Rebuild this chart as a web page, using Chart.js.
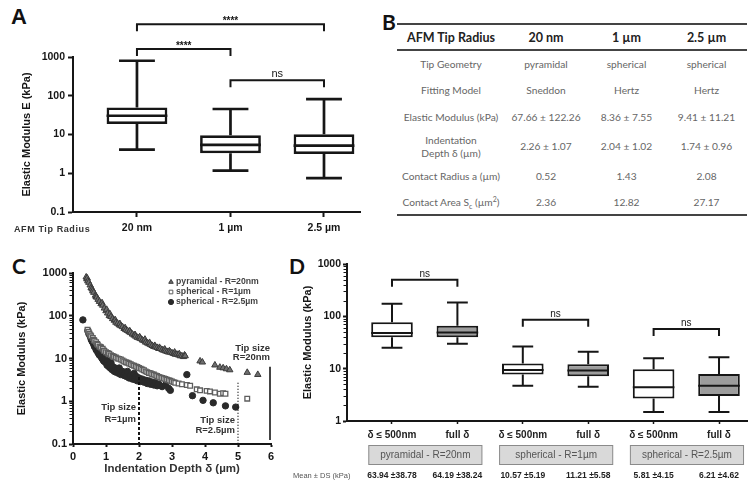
<!DOCTYPE html>
<html><head><meta charset="utf-8">
<script src="https://cdn.jsdelivr.net/npm/chart.js@4.4.1/dist/chart.umd.min.js"></script>
<style>
html,body{margin:0;padding:0;background:#fff;}
body{width:754px;height:487px;position:relative;overflow:hidden;}
canvas{position:absolute;}
.letter{position:absolute;font-weight:bold;color:#111;line-height:1;}
#tbl{position:absolute;left:397px;top:23px;width:350px;border-collapse:collapse;table-layout:fixed;font-family:Lato,'Open Sans',sans-serif;}
#tbl th{font-size:12.5px;font-weight:bold;color:#222;height:24px;padding:0;border-top:2px solid #444;border-bottom:2px solid #444;text-align:center;}
#tbl td{font-size:10.2px;color:#666;padding:0;text-align:center;line-height:13px;}
#tbl tbody tr:last-child td{border-bottom:2px solid #444;}
#tbl tbody tr:nth-child(1){height:27px;}
#tbl tbody tr:nth-child(2){height:27px;}
#tbl tbody tr:nth-child(3){height:27px;}
#tbl tbody tr:nth-child(4){height:31px;}
#tbl tbody tr:nth-child(5){height:29px;}
#tbl tbody tr:nth-child(6){height:24px;}
#tbl sub,#tbl sup{font-size:7px;line-height:0;}
</style></head>
<body>
<div class="letter" style="left:11px;top:6px;font-size:22px;font-family:'Liberation Sans',Arial,sans-serif">A</div>
<div class="letter" style="left:382px;top:11px;font-size:21px;font-family:Lato,sans-serif">B</div>
<div class="letter" style="left:12px;top:255px;font-size:21px;font-family:Lato,sans-serif">C</div>
<div class="letter" style="left:289px;top:255px;font-size:21px;font-family:Lato,sans-serif">D</div>
<canvas id="cA" width="375" height="242" style="left:0;top:0"></canvas>
<table id="tbl"></table>
<canvas id="cC" width="290" height="242" style="left:0;top:245px"></canvas>
<canvas id="cD" width="484" height="242" style="left:270px;top:245px"></canvas>
<script>
// ---------------- DATA ----------------
// Panel A
const tipCategories = ['20 nm', '1 µm', '2.5 µm'];
const tipMin    = [4.05, 1.17, 0.75];
const tipQ1     = [18.7, 3.27, 3.16];
const tipMedian = [30.5, 5.4, 5.15];
const tipQ3     = [50, 9.5, 10.1];
const tipMax    = [800, 45.5, 82];
const aYTicks   = [0.1, 1, 10, 100, 1000];
const aBrackets = [
  {from: 0, to: 2, level: 7000, label: '****'},
  {from: 0, to: 1, level: 1600, label: '****'},
  {from: 1, to: 2, level: 250,  label: 'ns'}
];

// Panel B
const tableHeader = ['AFM Tip Radius', '20 nm', '1 µm', '2.5 µm'];
const tableRowLabels = ['Tip Geometry', 'Fitting Model', 'Elastic Modulus (kPa)',
  'Indentation<br>Depth δ (µm)', 'Contact Radius a (µm)', 'Contact Area S<sub>c</sub> (µm<sup>2</sup>)'];
const tableValues = [
  ['pyramidal', 'spherical', 'spherical'],
  ['Sneddon', 'Hertz', 'Hertz'],
  ['67.66 ± 122.26', '8.36 ± 7.55', '9.41 ± 11.21'],
  ['2.26 ± 1.07', '2.04 ± 1.02', '1.74 ± 0.96'],
  ['0.52', '1.43', '2.08'],
  ['2.36', '12.82', '27.17']
];

// Panel C
const seriesNames = ['pyramidal - R=20nm', 'spherical - R=1µm', 'spherical - R=2.5µm'];
const pyramidalPoints = [[0.40,800],[0.42,720],[0.43,760],[0.45,650],[0.48,600],[0.52,520],[0.55,450],[0.58,420],[0.60,380],[0.63,350],[0.68,300],[0.70,280],[0.72,270],[0.76,240],[0.80,215],[0.85,190],[0.88,200],[0.90,175],[0.95,150],[1.00,130],[1.02,140],[1.05,115],[1.10,100],[1.12,110],[1.15,95],[1.20,85],[1.25,78],[1.28,80],[1.30,70],[1.35,66],[1.40,61],[1.42,65],[1.45,58],[1.50,55],[1.55,50],[1.58,52],[1.60,47],[1.65,45],[1.70,42],[1.72,44],[1.75,40],[1.80,37],[1.85,35],[1.88,36],[1.90,33],[1.95,31],[2.00,30],[2.02,32],[2.05,29],[2.10,27],[2.15,26],[2.18,28],[2.20,24],[2.25,23],[2.30,22],[2.32,23.5],[2.35,21],[2.40,20],[2.45,19],[2.48,20],[2.50,18.5],[2.55,18],[2.60,17],[2.62,18],[2.65,17],[2.70,16],[2.75,15.5],[2.78,16.5],[2.80,15],[2.85,14.5],[2.90,14],[2.92,15],[2.95,14],[3.00,13.5],[3.05,13],[3.08,14],[3.10,12.5],[3.15,12.5],[3.20,12],[3.22,12.8],[3.25,11.5],[3.30,11.5],[3.35,11],[3.38,12],[3.40,11.5],[3.85,8.7],[3.92,8.2],[4.30,7.0],[4.45,6.2],[4.55,6.0],[4.65,5.7],[4.75,5.4],[5.28,4.7],[5.60,4.2]];
const sphere1Points = [[0.44,47],[0.47,42],[0.50,38],[0.53,35],[0.55,33],[0.60,30],[0.63,27],[0.65,26],[0.70,24],[0.73,22],[0.75,21],[0.80,19],[0.83,18.5],[0.85,18],[0.90,17],[0.93,15.5],[0.95,15],[1.00,14],[1.05,13.5],[1.08,12.5],[1.10,13],[1.15,12],[1.20,11.5],[1.23,10.8],[1.25,11],[1.30,10.5],[1.35,10],[1.40,9.8],[1.45,9.5],[1.50,9],[1.55,8.5],[1.60,8.2],[1.65,8],[1.70,7.6],[1.75,7.3],[1.80,7],[1.85,6.8],[1.90,6.5],[1.95,6.3],[2.00,6],[2.05,5.8],[2.10,5.5],[2.15,5.3],[2.20,5],[2.25,4.8],[2.30,4.6],[2.35,4.5],[2.40,4.3],[2.45,4.2],[2.50,4],[2.55,3.9],[2.60,3.7],[2.65,3.6],[2.70,3.5],[2.75,3.4],[2.80,3.3],[2.85,3.2],[2.90,3.1],[2.95,3.0],[3.00,2.9],[3.05,2.8],[3.10,2.7],[3.20,2.6],[3.30,2.5],[3.45,2.4],[3.55,2.3],[3.75,1.9],[3.85,1.8],[4.05,1.75],[4.15,1.7],[4.30,1.6],[4.45,1.5],[4.55,1.55],[4.62,1.5],[5.28,1.15]];
const sphere25Points = [[0.30,80],[0.45,45],[0.48,38],[0.52,33],[0.55,28],[0.58,25],[0.62,22],[0.65,19],[0.70,16],[0.72,18],[0.75,14],[0.78,13],[0.80,12],[0.83,15],[0.85,11],[0.88,10],[0.90,12],[0.92,9],[0.95,8.5],[0.98,10],[1.00,8],[1.03,7],[1.05,9],[1.08,6.5],[1.10,7.5],[1.13,6],[1.15,8],[1.18,5.5],[1.20,6.5],[1.25,5],[1.28,6],[1.30,4.8],[1.35,5.5],[1.38,4.5],[1.40,6],[1.45,4.2],[1.50,5],[1.55,4],[1.58,4.5],[1.62,3.8],[1.65,5],[1.70,3.5],[1.75,4],[1.80,3.3],[1.85,4.5],[1.88,3.2],[1.92,3.8],[1.95,3],[2.00,3.5],[2.05,2.9],[2.10,3.3],[2.15,2.8],[2.20,3.1],[2.25,2.6],[2.30,3.0],[2.35,2.5],[2.40,2.8],[2.45,2.4],[2.50,2.7],[2.55,2.3],[2.60,2.5],[2.70,2.2],[2.80,2.4],[2.90,2.0],[2.95,1.8],[3.45,4.2],[3.62,1.35],[3.94,1.05],[4.25,0.92],[4.62,0.78],[4.93,0.73]];
const cYTicks = [0.1, 1, 10, 100, 1000];
const cXTicks = [0, 1, 2, 3, 4, 5, 6];
const tipSizeLines = [
  {x: 2, top: 3.7, style: 'dashed', text: ['Tip size', 'R=1µm'], textY: [0.70, 0.37]},
  {x: 5, top: 2.7, style: 'dotted', text: ['Tip size', 'R=2.5µm'], textY: [0.35, 0.21]},
  {x: 6, top: 6.4, style: 'solid',  text: ['Tip size', 'R=20nm'], textY: [17, 10.4]}
];

// Panel D
const depthLabels = ['δ ≤ 500nm', 'full δ', 'δ ≤ 500nm', 'full δ', 'δ ≤ 500nm', 'full δ'];
const depthMin    = [25, 30, 4.7, 4.5, 1.48, 1.48];
const depthQ1     = [40, 40, 7.7, 7.2, 2.7, 3.0];
const depthMedian = [48, 49, 9.4, 9.2, 4.4, 4.7];
const depthQ3     = [77.5, 66, 12.6, 12.2, 9.8, 7.9];
const depthMax    = [174, 183, 26.4, 21, 15.8, 16.6];
const tipGroups   = ['pyramidal - R=20nm', 'spherical - R=1µm', 'spherical - R=2.5µm'];
const meanSD      = ['63.94 ±38.78', '64.19 ±38.24', '10.57 ±5.19', '11.21 ±5.58', '5.81 ±4.15', '6.21 ±4.62'];
const dYTicks = [1, 10, 100, 1000];
const dBrackets = [
  {from: 0, to: 1, level: 500, label: 'ns'},
  {from: 2, to: 3, level: 86,  label: 'ns'},
  {from: 4, to: 5, level: 57,  label: 'ns'}
];

// ---------------- HELPERS ----------------
const INK = '#161616';
const FONT = "'Liberation Sans', Arial, sans-serif";
Chart.defaults.font.family = FONT;
Chart.defaults.color = INK;

function fnt(size, weight) { return weight + ' ' + size + 'px ' + FONT; }

function boxWhiskers(id, mins, meds, maxs, lw, capFrac) {
  return { id, afterDatasetsDraw(chart) {
    const ctx = chart.ctx, y = chart.scales.y;
    chart.getDatasetMeta(0).data.forEach((bar, i) => {
      const p = bar.getProps(['x', 'y', 'base', 'width'], true);
      const top = Math.min(p.y, p.base), bottom = Math.max(p.y, p.base);
      const half = p.width / 2, cap = p.width * capFrac / 2;
      const pMax = y.getPixelForValue(maxs[i]), pMin = y.getPixelForValue(mins[i]), pMed = y.getPixelForValue(meds[i]);
      ctx.save();
      ctx.strokeStyle = INK; ctx.lineWidth = lw;
      ctx.beginPath();
      ctx.moveTo(p.x, top); ctx.lineTo(p.x, pMax);
      ctx.moveTo(p.x - cap, pMax); ctx.lineTo(p.x + cap, pMax);
      ctx.moveTo(p.x, bottom); ctx.lineTo(p.x, pMin);
      ctx.moveTo(p.x - cap, pMin); ctx.lineTo(p.x + cap, pMin);
      ctx.moveTo(p.x - half, pMed); ctx.lineTo(p.x + half, pMed);
      ctx.stroke();
      ctx.restore();
    });
  }};
}

function brackets(id, list, drop, lw, font) {
  return { id, afterDatasetsDraw(chart) {
    const ctx = chart.ctx, x = chart.scales.x, y = chart.scales.y;
    ctx.save();
    ctx.strokeStyle = INK; ctx.lineWidth = lw; ctx.fillStyle = INK;
    list.forEach(b => {
      const x0 = x.getPixelForValue(b.from), x1 = x.getPixelForValue(b.to), py = y.getPixelForValue(b.level);
      ctx.beginPath();
      ctx.moveTo(x0, py + drop); ctx.lineTo(x0, py); ctx.lineTo(x1, py); ctx.lineTo(x1, py + drop);
      ctx.stroke();
      ctx.font = b.label === 'ns' ? font.ns : font.star;
      ctx.textAlign = 'center'; ctx.textBaseline = 'bottom';
      ctx.fillText(b.label, (x0 + x1) / 2, py - (b.label === 'ns' ? 1 : -2));
    });
    ctx.restore();
  }};
}

function minorLogTicks(id, decades, len) {
  return { id, afterDraw(chart) {
    const ctx = chart.ctx, y = chart.scales.y, x0 = chart.chartArea.left - 1;
    ctx.save(); ctx.strokeStyle = INK; ctx.lineWidth = 1;
    ctx.beginPath();
    for (let d = 0; d < decades.length - 1; d++) {
      for (let m = 2; m <= 9; m++) {
        const p = Math.round(y.getPixelForValue(decades[d] * m)) + 0.5;
        ctx.moveTo(x0, p); ctx.lineTo(x0 - len, p);
      }
    }
    ctx.stroke(); ctx.restore();
  }};
}

function decadeTicks(list) { return s => { s.ticks = list.map(v => ({value: v, major: true})); }; }

function logAxis(min, max, list, width, size, titleText, titlePad, tickLen, tickPad) {
  return {
    type: 'logarithmic', min, max,
    afterBuildTicks: decadeTicks(list),
    afterFit: s => { s.width = width; },
    grid: {display: true, drawOnChartArea: false, tickLength: tickLen, tickWidth: 2, color: INK},
    border: {display: true, color: INK, width: 2},
    ticks: {callback: v => String(v), font: {size, weight: 'bold'}, color: INK, padding: tickPad, autoSkip: false},
    title: {display: true, text: titleText, font: {size: 11, weight: 'bold'}, color: INK, padding: {top: titlePad, bottom: 0}}
  };
}

// ---------------- TABLE (B) ----------------
(function buildTable() {
  const t = document.getElementById('tbl');
  let h = '<colgroup><col style="width:108px"><col style="width:82px"><col style="width:79px"><col style="width:81px"></colgroup>';
  h += '<thead><tr>' + tableHeader.map(c => '<th>' + c + '</th>').join('') + '</tr></thead><tbody>';
  tableRowLabels.forEach((r, i) => {
    h += '<tr><td>' + r + '</td>' + tableValues[i].map(v => '<td>' + v + '</td>').join('') + '</tr>';
  });
  t.innerHTML = h + '</tbody>';
})();

// ---------------- PANEL A ----------------
new Chart(document.getElementById('cA'), {
  type: 'bar',
  data: { datasets: [{
    data: tipCategories.map((c, i) => ({x: i, y: [tipQ1[i], tipQ3[i]]})),
    backgroundColor: '#ffffff', borderColor: INK, borderWidth: 2.7, borderSkipped: false,
    barPercentage: 0.65, categoryPercentage: 1
  }]},
  options: {
    responsive: false, animation: false, devicePixelRatio: 1, events: [],
    layout: {padding: {top: 57, right: 15, left: 0, bottom: 0}},
    plugins: {legend: {display: false}, tooltip: {enabled: false}},
    scales: {
      x: {
        type: 'linear', min: -0.684, max: 2.385, offset: false,
        afterBuildTicks: s => { s.ticks = tipCategories.map((c, i) => ({value: i})); },
        afterFit: s => { s.height = 30; },
        grid: {display: true, drawOnChartArea: false, offset: false, tickLength: 5, tickWidth: 2, color: INK},
        border: {display: true, color: INK, width: 2},
        ticks: {callback: v => tipCategories[v], font: {size: 10.5, weight: 'bold'}, color: INK, padding: 5, autoSkip: false, maxRotation: 0}
      },
      y: logAxis(0.1, 1000, aYTicks, 73, 10.5, 'Elastic Modulus E (kPa)', 20, 5, 3)
    }
  },
  plugins: [
    boxWhiskers('wA', tipMin, tipMedian, tipMax, 2.7, 0.59),
    brackets('bA', aBrackets, 7, 2, {star: fnt(10, 'bold'), ns: fnt(11, 'normal')}),
    { id: 'afmLabel', afterDraw(chart) {
        const ctx = chart.ctx;
        ctx.save(); ctx.fillStyle = '#333'; ctx.font = fnt(9, 'bold');
        ctx.textBaseline = 'middle'; ctx.textAlign = 'left';
        if ('letterSpacing' in ctx) ctx.letterSpacing = '0.6px';
        ctx.fillText('AFM Tip Radius', 14, chart.chartArea.bottom + 18);
        ctx.restore();
    }}
  ]
});

// ---------------- PANEL C ----------------
const cStyles = [
  {pointStyle: 'triangle', pointRadius: 3.7, backgroundColor: '#6e6e6e', borderColor: '#3a3a3a', borderWidth: 1},
  {pointStyle: 'rect', pointRadius: 3.3, backgroundColor: '#ffffff', borderColor: '#5e5e5e', borderWidth: 1.3},
  {pointStyle: 'circle', pointRadius: 3.2, backgroundColor: '#2a2a2a', borderColor: '#2a2a2a', borderWidth: 1}
];
const cSeries = [pyramidalPoints, sphere1Points, sphere25Points];
new Chart(document.getElementById('cC'), {
  type: 'scatter',
  data: { datasets: cSeries.map((pts, k) => Object.assign({
    label: seriesNames[k], data: pts.map(p => ({x: p[0], y: p[1]}))
  }, cStyles[k])) },
  options: {
    responsive: false, animation: false, devicePixelRatio: 1, events: [],
    layout: {padding: {top: 28, right: 19, left: 0, bottom: 0}},
    plugins: {legend: {display: false}, tooltip: {enabled: false}},
    scales: {
      x: {
        type: 'linear', min: 0, max: 6,
        afterBuildTicks: s => { s.ticks = cXTicks.map(v => ({value: v})); },
        afterFit: s => { s.height = 43; },
        grid: {display: true, drawOnChartArea: false, tickLength: 3, tickWidth: 2, color: INK},
        border: {display: true, color: INK, width: 2},
        ticks: {font: {size: 11, weight: 'bold'}, color: INK, padding: 3, autoSkip: false, maxRotation: 0},
        title: {display: true, text: 'Indentation Depth δ (µm)', font: {size: 11.5, weight: 'bold'}, color: '#333', padding: {top: 0, bottom: 11}}
      },
      y: logAxis(0.1, 1000, cYTicks, 73, 11, 'Elastic Modulus (kPa)', 15, 4, 2)
    }
  },
  plugins: [
    minorLogTicks('mC', cYTicks, 2.5),
    { id: 'tipLines', afterDatasetsDraw(chart) {
        const ctx = chart.ctx, x = chart.scales.x, y = chart.scales.y, bottom = chart.chartArea.bottom;
        ctx.save();
        tipSizeLines.forEach(l => {
          const px = x.getPixelForValue(l.x) - (l.style === 'solid' ? 1 : 0);
          ctx.strokeStyle = l.style === 'solid' ? '#444' : INK;
          ctx.lineWidth = l.style === 'dotted' ? 1.3 : 2;
          ctx.setLineDash(l.style === 'dashed' ? [3, 2] : l.style === 'dotted' ? [1, 2] : []);
          ctx.beginPath(); ctx.moveTo(px, y.getPixelForValue(l.top)); ctx.lineTo(px, bottom - (l.style === 'solid' ? 4 : 0)); ctx.stroke();
          ctx.setLineDash([]);
          ctx.fillStyle = '#333'; ctx.font = fnt(9.5, 'bold'); ctx.textAlign = 'right'; ctx.textBaseline = 'middle';
          const off = l.style === 'solid' ? 0 : 3;
          l.text.forEach((t, i) => ctx.fillText(t, px - off, y.getPixelForValue(l.textY[i])));
        });
        ctx.restore();
    }},
    { id: 'legendC', afterDraw(chart) {
        const ctx = chart.ctx, a = chart.chartArea;
        ctx.save();
        seriesNames.forEach((name, k) => {
          const st = cStyles[k];
          const mx = a.left + 98, my = a.top + 9 + k * 10;
          ctx.fillStyle = st.backgroundColor; ctx.strokeStyle = st.borderColor; ctx.lineWidth = 1;
          Chart.helpers.drawPoint(ctx, {pointStyle: st.pointStyle, radius: 2.6, borderWidth: 1, rotation: 0}, mx, my);
          ctx.fillStyle = '#444'; ctx.font = fnt(8.7, 'bold'); ctx.textAlign = 'left'; ctx.textBaseline = 'middle';
          ctx.fillText(name, mx + 5, my);
        });
        ctx.restore();
    }}
  ]
});

// ---------------- PANEL D ----------------
new Chart(document.getElementById('cD'), {
  type: 'bar',
  data: { datasets: [{
    data: depthLabels.map((c, i) => ({x: i, y: [depthQ1[i], depthQ3[i]]})),
    backgroundColor: depthLabels.map((c, i) => i % 2 ? '#9c9c9c' : '#ffffff'),
    borderColor: INK, borderWidth: 2, borderSkipped: false,
    barPercentage: 0.636, categoryPercentage: 1
  }]},
  options: {
    responsive: false, animation: false, devicePixelRatio: 1, events: [],
    layout: {padding: {top: 19, right: 7, left: 0, bottom: 0}},
    plugins: {legend: {display: false}, tooltip: {enabled: false}},
    scales: {
      x: {
        type: 'linear', min: -0.688, max: 5.428, offset: false,
        afterBuildTicks: s => { s.ticks = depthLabels.map((c, i) => ({value: i})); },
        afterFit: s => { s.height = 66; },
        grid: {display: true, drawOnChartArea: false, offset: false, tickLength: 3, tickWidth: 1.5, color: INK},
        border: {display: true, color: INK, width: 2},
        ticks: {callback: v => depthLabels[v], font: {size: 10, weight: 'bold'}, color: '#222', padding: 5, autoSkip: false, maxRotation: 0}
      },
      y: logAxis(1, 1000, dYTicks, 77, 10.5, 'Elastic Modulus (kPa)', 31, 4, 2)
    }
  },
  plugins: [
    minorLogTicks('mD', dYTicks, 2.5),
    boxWhiskers('wD', depthMin, depthMedian, depthMax, 2, 0.5),
    brackets('bD', dBrackets, 7, 2, {star: fnt(10, 'bold'), ns: fnt(10, 'normal')}),
    { id: 'groupsD', afterDraw(chart) {
        const ctx = chart.ctx, bars = chart.getDatasetMeta(0).data, bottom = chart.chartArea.bottom;
        const step = bars[1].x - bars[0].x;
        ctx.save();
        tipGroups.forEach((g, k) => {
          const x0 = bars[2 * k].x - step * 0.355, x1 = bars[2 * k + 1].x + step * 0.375;
          const top = bottom + 24.5, h = 19;
          ctx.fillStyle = '#d9d9d9'; ctx.fillRect(x0, top, x1 - x0, h);
          ctx.strokeStyle = '#8a8a8a'; ctx.lineWidth = 1; ctx.strokeRect(x0, top, x1 - x0, h);
          ctx.fillStyle = '#555'; ctx.font = fnt(10, 'normal'); ctx.textAlign = 'center'; ctx.textBaseline = 'middle';
          ctx.fillText(g, (x0 + x1) / 2, top + h / 2 + 0.5);
        });
        ctx.fillStyle = '#555'; ctx.font = fnt(7.5, 'normal'); ctx.textAlign = 'left'; ctx.textBaseline = 'middle';
        ctx.fillText('Mean ± DS (kPa)', 23, bottom + 55);
        ctx.fillStyle = '#222'; ctx.font = fnt(8.5, 'bold'); ctx.textAlign = 'center';
        meanSD.forEach((m, i) => ctx.fillText(m, bars[i].x, bottom + 55));
        ctx.restore();
    }}
  ]
});
</script>
</body></html>
